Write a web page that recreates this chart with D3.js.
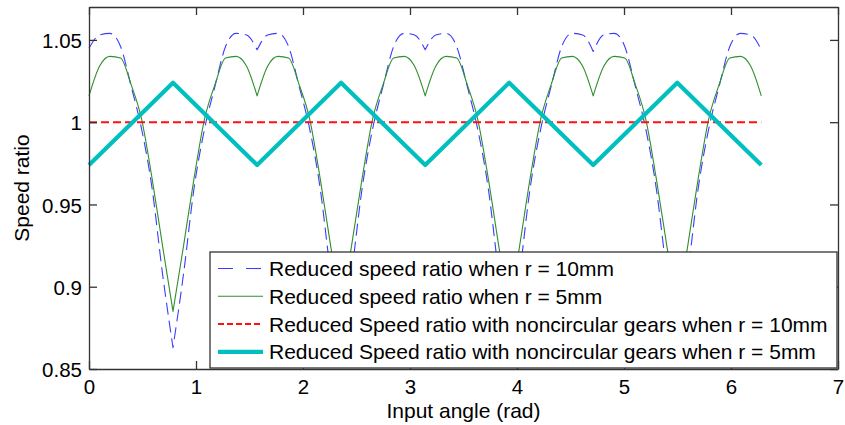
<!DOCTYPE html>
<meta charset="utf-8">
<head>
	<title>Speed ratio</title>
</head>
<style>
	body { margin: 0; background: #fff; }
	text { font-family: "Liberation Sans", Arial, sans-serif; fill: #000; }
</style>
<body>
<svg width="845" height="425"></svg>

<script src="https://cdnjs.cloudflare.com/ajax/libs/d3/7.8.5/d3.min.js"></script>
<script>

// input angle samples (rad)
var angle = [0.000, 0.098, 0.196, 0.295, 0.393, 0.491, 0.589, 0.687, 0.785, 0.884, 0.982, 1.080, 1.178, 1.276, 1.374, 1.473,
	1.571, 1.669, 1.767, 1.865, 1.963, 2.062, 2.160, 2.258, 2.356, 2.454, 2.553, 2.651, 2.749, 2.847, 2.945, 3.043,
	3.142, 3.240, 3.338, 3.436, 3.534, 3.632, 3.731, 3.829, 3.927, 4.025, 4.123, 4.222, 4.320, 4.418, 4.516, 4.614,
	4.712, 4.811, 4.909, 5.007, 5.105, 5.203, 5.301, 5.400, 5.498, 5.596, 5.694, 5.792, 5.890, 5.989, 6.087, 6.185,
	6.283];

// reduced speed ratio, r = 10mm
var ratio10 = [1.045, 1.053, 1.054, 1.046, 1.022, 0.996, 0.960, 0.908, 0.863, 0.908, 0.960, 0.996, 1.022, 1.046, 1.054, 1.053,
	1.044, 1.053, 1.054, 1.046, 1.022, 0.996, 0.960, 0.908, 0.863, 0.908, 0.960, 0.996, 1.022, 1.046, 1.054, 1.053,
	1.044, 1.053, 1.054, 1.046, 1.022, 0.996, 0.960, 0.908, 0.863, 0.908, 0.960, 0.996, 1.022, 1.046, 1.054, 1.053,
	1.043, 1.053, 1.054, 1.046, 1.022, 0.996, 0.960, 0.908, 0.863, 0.908, 0.960, 0.996, 1.022, 1.046, 1.054, 1.053,
	1.044];

// reduced speed ratio, r = 5mm
var ratio5 = [1.016, 1.034, 1.040, 1.039, 1.023, 1.002, 0.966, 0.925, 0.885, 0.925, 0.966, 1.002, 1.023, 1.039, 1.040, 1.034,
	1.016, 1.034, 1.040, 1.039, 1.023, 1.002, 0.966, 0.925, 0.885, 0.925, 0.966, 1.002, 1.023, 1.039, 1.040, 1.034,
	1.016, 1.034, 1.040, 1.039, 1.023, 1.002, 0.966, 0.925, 0.885, 0.925, 0.966, 1.002, 1.023, 1.039, 1.040, 1.034,
	1.016, 1.034, 1.040, 1.039, 1.023, 1.002, 0.966, 0.925, 0.885, 0.925, 0.966, 1.002, 1.023, 1.039, 1.040, 1.034,
	1.016];

// noncircular gears, r = 10mm
var gearAngle10 = [0, 6.283];
var gearRatio10 = [1, 1];

// noncircular gears, r = 5mm
var gearAngle5 = [0, 0.785, 1.571, 2.356, 3.142, 3.927, 4.712, 5.498, 6.283];
var gearRatio5 = [0.974, 1.024, 0.974, 1.024, 0.974, 1.024, 0.974, 1.024, 0.974];

var xTicks = [0, 1, 2, 3, 4, 5, 6, 7];
var yTicks = [0.85, 0.9, 0.95, 1, 1.05];
var yTickLabels = ["0.85", "0.9", "0.95", "1", "1.05"];

var legendLabels = [
	"Reduced speed ratio when r = 10mm",
	"Reduced speed ratio when r = 5mm",
	"Reduced Speed ratio with noncircular gears when r = 10mm",
	"Reduced Speed ratio with noncircular gears when r = 5mm"
];

var svg = d3.select("svg"),
	margin = {top: 7, right: 7, bottom: 56, left: 89},
	width = svg.attr("width") - margin.left - margin.right,
	height = svg.attr("height") - margin.top - margin.bottom;

var g = svg.append("g")
	.attr("transform", "translate(" + margin.left + "," + margin.top + ")");

var x = d3.scaleLinear().domain([0, 7]).range([0, width]);
var y = d3.scaleLinear().domain([0.85, 1.07]).range([height, 0]);

// cusp = number of samples between sharp corners (smooth arcs in between)
var series = [
	{xs: angle, ys: ratio10, color: "#3b3bff", width: 1.1, dash: "12,6", cusp: 8},
	{xs: angle, ys: ratio5, color: "#2f8f2f", width: 1.1, dash: null, cusp: 8},
	{xs: gearAngle10, ys: gearRatio10, color: "#ff1010", width: 2, dash: "8,4", cusp: 1},
	{xs: gearAngle5, ys: gearRatio5, color: "#00bfbf", width: 4.2, dash: null, cusp: 1}
];

var line = d3.line()
	.x(function(d) { return x(d[0]); })
	.y(function(d) { return y(d[1]); })
	.curve(d3.curveMonotoneX);

series.forEach(function(s) {
	var pts = d3.zip(s.xs, s.ys);
	// one smooth piece per arc, joined so the corners stay sharp
	var d = "";
	for (var i = 0; i + 1 < pts.length; i += s.cusp) {
		var seg = line(pts.slice(i, i + s.cusp + 1));
		d += i == 0 ? seg : "L" + seg.slice(1);
	}
	g.append("path")
		.attr("fill", "none")
		.attr("stroke", s.color)
		.attr("stroke-width", s.width)
		.attr("stroke-dasharray", s.dash)
		.attr("stroke-linejoin", "round")
		.attr("d", d);
});

// axes, ticks pointing inward on all four sides
function styleAxis(sel) {
	sel.selectAll("path, line").attr("stroke", "#333").attr("stroke-width", 1.3);
	sel.selectAll("text").style("font-size", "20.5px").attr("fill", "#000");
}

g.append("g")
	.attr("transform", "translate(0," + height + ")")
	.call(d3.axisBottom(x).tickValues(xTicks).tickFormat(d3.format("d")).tickSize(-8).tickSizeOuter(0).tickPadding(10))
	.call(styleAxis);

g.append("g")
	.call(d3.axisTop(x).tickValues(xTicks).tickFormat("").tickSize(-8).tickSizeOuter(0))
	.call(styleAxis);

g.append("g")
	.call(d3.axisLeft(y).tickValues(yTicks).tickFormat(function(d, i) { return yTickLabels[i]; }).tickSize(-8).tickSizeOuter(0).tickPadding(7))
	.call(styleAxis)
	.selectAll("text").attr("dy", "0.38em");

g.append("g")
	.attr("transform", "translate(" + width + ",0)")
	.call(d3.axisRight(y).tickValues(yTicks).tickFormat("").tickSize(-8).tickSizeOuter(0))
	.call(styleAxis);

// axis titles
g.append("text")
	.attr("x", width / 2)
	.attr("y", height + 49)
	.attr("text-anchor", "middle")
	.style("font-size", "21px")
	.text("Input angle (rad)");

g.append("text")
	.attr("transform", "translate(" + (29 - margin.left) + "," + (height / 2) + ") rotate(-90)")
	.attr("text-anchor", "middle")
	.style("font-size", "21px")
	.text("Speed ratio");

// legend
var legend = svg.append("g")
	.attr("transform", "translate(210,252)");

legend.append("rect")
	.attr("width", 627)
	.attr("height", 116)
	.attr("fill", "#fff")
	.attr("stroke", "#333")
	.attr("stroke-width", 1.3);

legendLabels.forEach(function(label, i) {
	var s = series[i];
	var cy = 16.5 + i * 27.8;
	legend.append("line")
		.attr("x1", 8)
		.attr("x2", 53)
		.attr("y1", cy)
		.attr("y2", cy)
		.attr("stroke", s.color)
		.attr("stroke-width", s.width)
		.attr("stroke-dasharray", i == 0 ? "15,13" : (i == 2 ? "6,3" : null));
	legend.append("text")
		.attr("x", 59)
		.attr("y", cy)
		.attr("dy", "0.36em")
		.style("font-size", "21px")
		.text(label);
});

</script>
</body>
</html>
